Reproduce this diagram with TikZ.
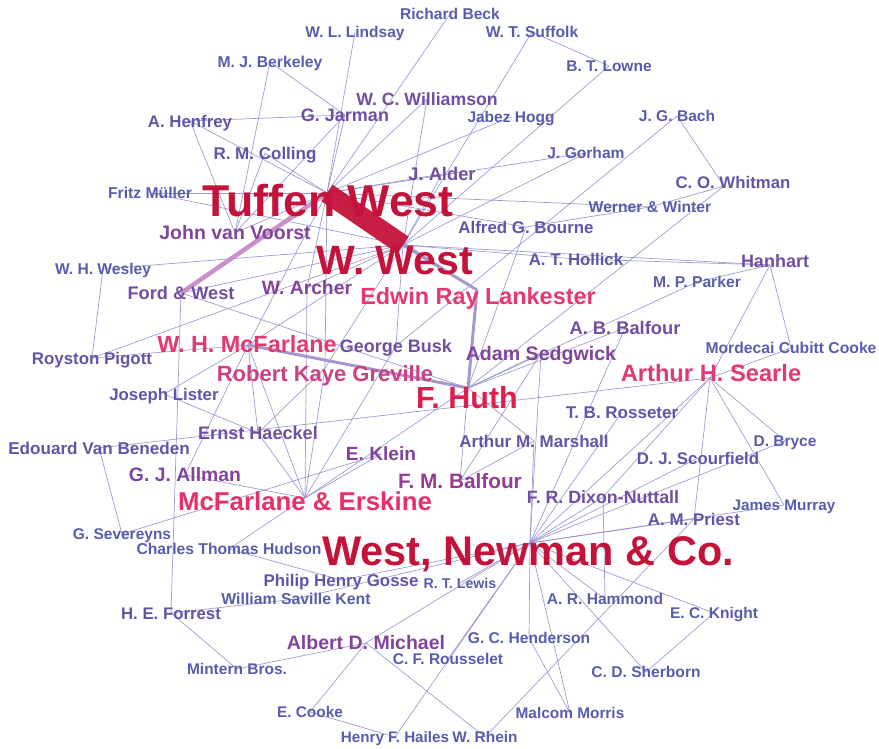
\documentclass[tikz,border=0pt]{standalone}
\usepackage{fontspec}
\setmainfont{Liberation Sans}
\usetikzlibrary{backgrounds}
\definecolor{cA}{RGB}{88,92,172}
\definecolor{cB}{RGB}{96,86,168}
\definecolor{cC}{RGB}{112,78,160}
\definecolor{cD}{RGB}{130,68,155}
\definecolor{cE}{RGB}{150,60,150}
\definecolor{cF}{RGB}{205,62,130}
\definecolor{cG}{RGB}{226,58,112}
\definecolor{cH}{RGB}{232,48,100}
\definecolor{cI}{RGB}{222,30,78}
\definecolor{cJ}{RGB}{196,18,58}
\definecolor{edgec}{RGB}{140,140,205}
\definecolor{mauve}{RGB}{200,145,200}
\definecolor{lav}{RGB}{168,150,205}
\newcommand\nd[6]{\coordinate (#1) at (#2,#3);
  \node[lbl=#4,text=#5] (#1t) at (#2,{#3+0.358*#4}) {#6};}
\begin{document}
\begin{tikzpicture}[x=1pt,y=-1pt,
  lbl/.style={font=\bfseries\fontsize{#1}{#1}\selectfont, inner sep=0pt, anchor=base},
  e/.style={draw=edgec, line width=0.7pt, opacity=0.85},
  heavy/.style={draw=cJ, line width=20pt, opacity=0.95},
  mid/.style={draw=mauve, line width=4.5pt},
  thickl/.style={draw=lav, line width=3pt}]
\useasboundingbox (0,0) rectangle (879,749);
% nodes
\nd{beck}{450}{14}{15.6}{cA}{Richard Beck}
\nd{lindsay}{355}{32}{15.5}{cA}{W. L. Lindsay}
\nd{suffolk}{532}{32}{15.7}{cA}{W. T. Suffolk}
\nd{berkeley}{270}{62}{15.7}{cA}{M. J. Berkeley}
\nd{lowne}{609}{66}{15.5}{cA}{B. T. Lowne}
\nd{williamson}{427}{99}{17.7}{cC}{W. C. Williamson}
\nd{jarman}{345}{115}{18}{cC}{G. Jarman}
\nd{hogg}{511}{117}{15.5}{cA}{Jabez Hogg}
\nd{henfrey}{190}{121}{16.8}{cB}{A. Henfrey}
\nd{bach}{677}{116}{15.6}{cA}{J. G. Bach}
\nd{colling}{265}{153}{17}{cB}{R. M. Colling}
\nd{gorham}{586}{153}{15.6}{cA}{J. Gorham}
\nd{alder}{442}{174}{18.3}{cC}{J. Alder}
\nd{whitman}{733}{182}{16.8}{cB}{C. O. Whitman}
\nd{muller}{150}{193}{15.7}{cA}{Fritz Müller}
\nd{tw}{328}{201}{44.6}{cJ}{Tuffen West}
\nd{werner}{650}{207}{15.7}{cA}{Werner \& Winter}
\nd{jvv}{235}{233}{19.5}{cD}{John van Voorst}
\nd{bourne}{526}{227}{16.9}{cB}{Alfred G. Bourne}
\nd{ww}{395}{260}{41}{cJ}{W. West}
\nd{hollick}{576}{259}{16.8}{cB}{A. T. Hollick}
\nd{hanhart}{775}{261}{18}{cC}{Hanhart}
\nd{wesley}{103}{269}{15.6}{cA}{W. H. Wesley}
\nd{fordw}{181}{293}{18.2}{cC}{Ford \& West}
\nd{archer}{307}{288}{19.3}{cD}{W. Archer}
\nd{parker}{697}{282}{15.7}{cA}{M. P. Parker}
\nd{erl}{478}{296}{23.4}{cG}{Edwin Ray Lankester}
\nd{abb}{625}{328}{18.3}{cC}{A. B. Balfour}
\nd{whm}{247}{344}{23.4}{cG}{W. H. McFarlane}
\nd{busk}{396}{346}{18}{cC}{George Busk}
\nd{sedgwick}{541}{353}{19.6}{cD}{Adam Sedgwick}
\nd{mcc}{791}{348}{15.7}{cA}{Mordecai Cubitt Cooke}
\nd{pigott}{92}{358}{16.9}{cB}{Royston Pigott}
\nd{rkg}{325}{374}{22}{cF}{Robert Kaye Greville}
\nd{searle}{711}{373}{23.7}{cG}{Arthur H. Searle}
\nd{huth}{467}{398}{30.5}{cI}{F. Huth}
\nd{lister}{164}{394}{16.8}{cB}{Joseph Lister}
\nd{rosseter}{622}{412}{17}{cB}{T. B. Rosseter}
\nd{haeckel}{258}{433}{18.1}{cC}{Ernst Haeckel}
\nd{beneden}{99}{448}{17.1}{cB}{Edouard Van Beneden}
\nd{marshall}{534}{441}{17}{cB}{Arthur M. Marshall}
\nd{bryce}{785}{441}{15.5}{cA}{D. Bryce}
\nd{klein}{381}{454}{19.1}{cD}{E. Klein}
\nd{scourfield}{698}{458}{16.8}{cB}{D. J. Scourfield}
\nd{allman}{185}{475}{19.4}{cD}{G. J. Allman}
\nd{fmb}{460}{481}{20.8}{cE}{F. M. Balfour}
\nd{me}{305}{501}{25.8}{cH}{McFarlane \& Erskine}
\nd{dixon}{603}{497}{17.8}{cC}{F. R. Dixon-Nuttall}
\nd{murray}{784}{505}{15.3}{cA}{James Murray}
\nd{priest}{694}{519}{16.9}{cB}{A. M. Priest}
\nd{severeyns}{122}{534}{15.5}{cA}{G. Severeyns}
\nd{hudson}{229}{549}{15.7}{cA}{Charles Thomas Hudson}
\nd{wn}{528}{551}{41.5}{cJ}{West, Newman \& Co.}
\nd{gosse}{341}{580}{16.9}{cB}{Philip Henry Gosse}
\nd{lewis}{460}{583}{14.2}{cA}{R. T. Lewis}
\nd{kent}{296}{599}{15.8}{cA}{William Saville Kent}
\nd{hammond}{605}{599}{15.6}{cA}{A. R. Hammond}
\nd{forrest}{171}{613}{16.8}{cB}{H. E. Forrest}
\nd{knight}{714}{613}{15.5}{cA}{E. C. Knight}
\nd{michael}{366}{643}{19.5}{cD}{Albert D. Michael}
\nd{henderson}{529}{638}{15.6}{cA}{G. C. Henderson}
\nd{rousselet}{448}{659}{15.5}{cA}{C. F. Rousselet}
\nd{mintern}{237}{669}{15.5}{cA}{Mintern Bros.}
\nd{sherborn}{646}{672}{15.6}{cA}{C. D. Sherborn}
\nd{ecooke}{310}{712}{15.4}{cA}{E. Cooke}
\nd{morris}{570}{713}{15.4}{cA}{Malcom Morris}
\nd{hailes}{395}{737}{15.2}{cA}{Henry F. Hailes}
\nd{rhein}{485}{737}{15.4}{cA}{W. Rhein}
% hubs of the large nodes
\coordinate (tw) at (327,193);
\coordinate (ww) at (403,245);
\coordinate (wn) at (530,543);
\coordinate (huth) at (468,388);
\coordinate (erl) at (477,290);
\coordinate (rkg) at (325,368);
\coordinate (me) at (305,498);
\coordinate (searle) at (710,378);
\coordinate (whm) at (248,345);
\coordinate (whitman) at (724,186);
\coordinate (hanhart) at (770,265);
\begin{pgfonlayer}{background}
\foreach \a/\b in {tw/lindsay,tw/beck,tw/henfrey,tw/colling,tw/muller,tw/williamson,tw/hogg,tw/gorham,tw/alder,tw/jarman,tw/jvv,tw/rkg,tw/whm,tw/archer,tw/erl,tw/bourne,tw/werner,
 ww/williamson,ww/busk,ww/wesley,ww/hanhart,ww/hollick,ww/gorham,ww/suffolk,ww/lowne,ww/archer,ww/whm,ww/fordw,ww/muller,ww/rkg,ww/alder,ww/pigott,
 huth/bourne,huth/whitman,huth/parker,huth/abb,huth/marshall,huth/fmb,huth/me,huth/sedgwick,huth/fordw,
 wn/dixon,wn/scourfield,wn/bryce,wn/priest,wn/marshall,wn/rosseter,wn/searle,wn/murray,wn/abb,wn/gosse,wn/kent,wn/lewis,wn/hammond,wn/knight,wn/sherborn,wn/henderson,wn/morris,wn/rousselet,wn/hailes,wn/michael,wn/sedgwick,
 berkeley/jarman,berkeley/jvv,henfrey/jarman,henfrey/jvv,colling/jvv,jarman/jvv,suffolk/lowne,bach/whitman,bach/busk,whitman/werner,werner/bourne,hollick/hanhart,parker/hanhart,hanhart/searle,hanhart/mcc,searle/mcc,searle/bryce,searle/murray,searle/priest,searle/dixon,searle/beneden,wesley/pigott,fordw/forrest,archer/me,severeyns/beneden,severeyns/klein,hudson/gosse,hudson/me,forrest/mintern,forrest/kent,mintern/michael,michael/ecooke,michael/rhein,ecooke/hailes,knight/sherborn,dixon/hammond,priest/rhein,henderson/morris,me/haeckel,me/whm,me/rkg,me/klein,me/allman,me/busk,haeckel/whm,haeckel/lister,allman/whm,lister/whm,pigott/whm,rkg/haeckel,fmb/marshall,sedgwick/fmb}
  \draw[e] (\a) -- (\b);
\draw[thickl] (ww) -- (erl);
\draw[thickl] (erl) -- (huth);
\draw[thickl] (whm) -- (huth);
\draw[mid] (tw) -- (fordw);
\draw[heavy] (tw) -- (ww);
\end{pgfonlayer}
\end{tikzpicture}
\end{document}
